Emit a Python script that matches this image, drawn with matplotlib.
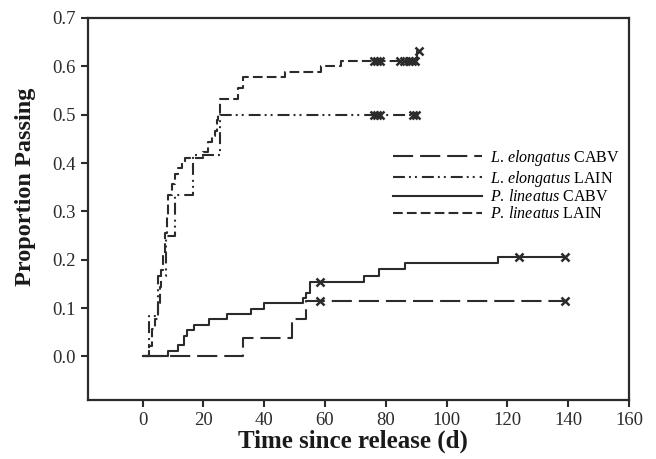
import numpy as np
import matplotlib
matplotlib.use("Agg")
import matplotlib.pyplot as plt

plt.rcParams["font.family"] = ["Liberation Serif", "DejaVu Serif"]
plt.rcParams["mathtext.fontset"] = "custom"
plt.rcParams["mathtext.rm"] = "Liberation Serif"
plt.rcParams["mathtext.it"] = "Liberation Serif:italic"
plt.rcParams["lines.scale_dashes"] = False

# Kaplan-Meier style step data: event times (d) and cumulative proportion passing
le_cabv_t = [0, 32.9, 49.0, 53.7]
le_cabv_p = [0, 0.038, 0.077, 0.115]
le_cabv_end = 139
le_cabv_cens = [58.2, 138.9]

le_lain_t = [0, 2.2, 5.0, 7.8, 10.6, 16.6, 25.4]
le_lain_p = [0, 0.083, 0.167, 0.25, 0.333, 0.417, 0.5]
le_lain_end = 90
le_lain_cens = [76.0, 77.0, 78.0, 89.0, 90.0]

pl_cabv_t = [0, 8.4, 11.7, 13.6, 14.6, 16.8, 21.8, 27.8, 35.5, 39.9, 52.7,
             53.7, 54.9, 72.9, 77.9, 86.2, 116.9]
pl_cabv_p = [0, 0.011, 0.023, 0.042, 0.054, 0.066, 0.078, 0.088, 0.099, 0.111,
             0.121, 0.131, 0.154, 0.166, 0.181, 0.193, 0.206]
pl_cabv_end = 139
pl_cabv_cens = [58.2, 123.8, 138.9]

pl_lain_t = [0, 2.0, 3.0, 4.0, 5.0, 5.6, 6.2, 6.7, 7.3, 8.0, 8.4, 9.5, 10.5,
             11.7, 12.8, 13.9, 19.9, 21.5, 22.7, 23.8, 24.3, 24.8, 25.4, 31.3,
             33.0, 46.9, 58.6, 65.2, 90.3]
pl_lain_p = [0, 0.022, 0.056, 0.078, 0.111, 0.144, 0.178, 0.211, 0.256, 0.289,
             0.333, 0.356, 0.378, 0.389, 0.400, 0.411, 0.422, 0.444, 0.456,
             0.467, 0.489, 0.500, 0.533, 0.555, 0.578, 0.589, 0.600, 0.611,
             0.631]
pl_lain_end = 90.8
pl_lain_cens = [76.0, 77.0, 78.0, 84.5, 86.0, 87.5, 88.5, 89.5, 90.8]

labels = [r"$\it{L.\,elongatus}$ CABV", r"$\it{L.\,elongatus}$ LAIN",
          r"$\it{P.\,lineatus}$ CABV", r"$\it{P.\,lineatus}$ LAIN"]

col = "#2b2b2b"
styles = [(0, (14.5, 5.0)),
          (0, (8.6, 2.9, 1.4, 2.9, 1.4, 3.6)),
          "-",
          (0, (7.0, 3.0))]

series = [(le_cabv_t, le_cabv_p, le_cabv_end, le_cabv_cens),
          (le_lain_t, le_lain_p, le_lain_end, le_lain_cens),
          (pl_cabv_t, pl_cabv_p, pl_cabv_end, pl_cabv_cens),
          (pl_lain_t, pl_lain_p, pl_lain_end, pl_lain_cens)]

fig = plt.figure(figsize=(6.56, 4.59), dpi=100)
ax = fig.add_axes([0.134, 0.1285, 0.825, 0.8325])

for (t, p, end, cens), ls, lab in zip(series, styles, labels):
    tt = list(t) + [end]
    pp = list(p) + [p[-1]]
    ax.step(tt, pp, where="post", color=col, lw=1.5, linestyle=ls, label=lab)
    idx = np.searchsorted(t, cens, side="right") - 1
    ax.plot(cens, np.array(p)[idx], linestyle="none", marker="x", ms=6,
            mew=1.8, color=col)

ax.set_xlim(-18, 160)
ax.set_ylim(-0.09, 0.7)
ax.set_xticks(np.arange(0, 161, 20))
ax.set_yticks(np.arange(0, 0.71, 0.1))
ax.yaxis.set_major_formatter(matplotlib.ticker.FormatStrFormatter("%.1f"))
ax.tick_params(direction="out", length=5, width=1.5, labelsize=13.5,
               colors=col, top=False, right=False)
for s in ax.spines.values():
    s.set_linewidth(1.6)
    s.set_color(col)

ax.set_xlabel("Time since release (d)", fontsize=18, fontweight="bold",
              color="#1a1a1a")
ax.set_ylabel("Proportion Passing", fontsize=17.5, fontweight="bold",
              color="#1a1a1a")
ax.xaxis.set_label_coords(0.49, -0.078)
ax.yaxis.set_label_coords(-0.095, 0.557)

ax.legend(loc="upper left", bbox_to_anchor=(0.552, 0.677), frameon=False,
          fontsize=11.5, handlelength=5.6, handletextpad=0.45,
          labelspacing=0.05, borderaxespad=0)

fig.savefig("out.png", dpi=100)
